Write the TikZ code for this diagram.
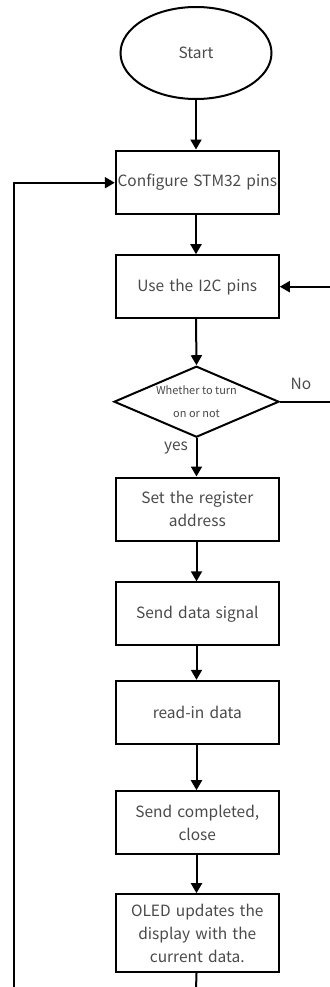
\documentclass[tikz,border=0pt]{standalone}
\usepackage{fontspec}
\setmainfont{Noto Sans CJK SC}
\usetikzlibrary{shapes.geometric,arrows.meta}
\definecolor{txt}{HTML}{4A4A4A}
\begin{document}
\begin{tikzpicture}[x=1bp,y=-1bp,
  every node/.style={font=\fontsize{15.5bp}{23bp}\selectfont, text=txt},
  procbox/.style={draw=black, line width=2bp, minimum width=163bp, minimum height=63bp, inner sep=1bp, align=center, text width=160bp},
  decision/.style={draw=black, line width=2bp, diamond, minimum width=165bp, minimum height=71bp, inner sep=0pt, aspect=2.3, align=center},
  startnode/.style={draw=black, line width=2bp, ellipse, minimum width=151bp, minimum height=92bp},
  flow/.style={line width=2bp, -{Triangle[length=10bp,width=11bp]}},
  plain/.style={line width=2bp}]
\useasboundingbox (0,0) rectangle (329,987);
\node[startnode] (start) at (196,53) {Start};
\node[procbox] (cfg) at (197.3,182) {Configure STM32 pins};
\node[procbox] (i2c) at (197.3,286.7) {Use the I2C pins};
\node[decision] (dec) at (196.5,401.7) {\fontsize{11bp}{16.5bp}\selectfont Whether to turn\\ \fontsize{11bp}{16.5bp}\selectfont on or not};
\node[procbox] (reg) at (197.3,509) {Set the register\\address};
\node[procbox] (sig) at (197.3,613.8) {Send data signal};
\node[procbox] (rd) at (197.3,712.3) {read-in data};
\node[procbox] (done) at (197.3,822.7) {Send completed,\\close};
\node[procbox, minimum height=78bp] (oled) at (197.3,933.2) {OLED updates the\\display with the\\current data.};
\node (no) at (301,384) {No};
\node (yes) at (176,448) {yes};
\coordinate (rbot) at (331,401.7);
\coordinate (rtop) at (331,286.7);
\coordinate (lbot) at (14,990);
\coordinate (ltop) at (14,182.7);
\coordinate (dbot) at (196,990);
\draw[flow] (start) -- (start.south |- cfg.north);
\draw[flow] (cfg.south -| start) -- (start |- i2c.north);
\draw[flow] (i2c.south -| start) -- (dec.north);
\draw[flow] (dec.south) -- (dec.south |- reg.north);
\draw[flow] (reg.south -| dec) -- (dec |- sig.north);
\draw[flow] (sig.south -| dec) -- (dec |- rd.north);
\draw[flow] (rd.south -| dec) -- (dec |- done.north);
\draw[flow] (done.south -| dec) -- (dec |- oled.north);
\draw[plain] (oled.south -| dec) -- (dbot);
\draw[flow] (dec.east) -- (rbot) -- (rtop) -- (i2c.east);
\draw[flow] (lbot) -- (ltop) -- (cfg.west |- ltop);
\end{tikzpicture}
\end{document}
